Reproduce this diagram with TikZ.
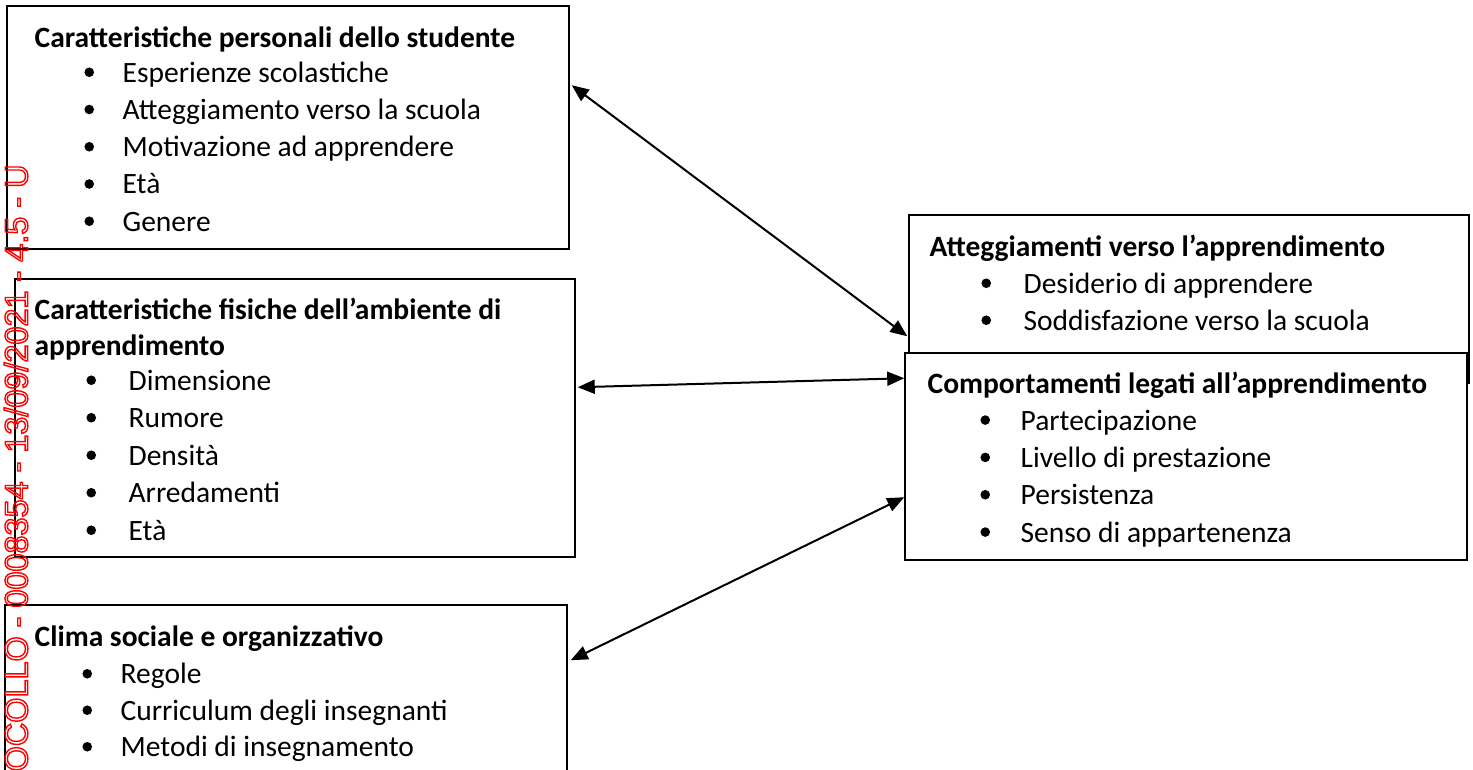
\documentclass[tikz,border=0pt]{standalone}
\usepackage{fontspec}
\setmainfont{Carlito}
\newfontfamily\stampfont{Liberation Sans}
\usetikzlibrary{arrows.meta, calc, fit}

\begin{document}
\begin{tikzpicture}[x=0.5pt, y=-0.5pt,
    box/.style={draw, line width=0.75pt, inner sep=0pt, fill=white},
    txt/.style={anchor=base west, inner sep=0pt, font=\fontsize{14.75}{16}\selectfont},
    head/.style={txt, font=\fontsize{14.75}{16}\selectfont\bfseries},
    link/.style={{Triangle[length=8.5pt,width=7pt]}-{Triangle[length=8.5pt,width=7pt]}, line width=1pt}]
    \useasboundingbox (0,0) rectangle (1473,770);
    \clip (0,0) rectangle (1473,770);
    \node [box, fit={(7,6) (569,249)}] (pers) {};
    \node [box, fit={(15,279) (575,557)}] (amb) {};
    \node [box, fit={(5,605) (567,800)}] (clima) {};
    \node [box, fit={(909,215) (1469,383)}] (att) {};
    \node [box, fit={(905,353) (1467,560)}] (comp) {};

    \node [head] (pers-t) at ($(pers.north west)+(28,42)$) {Caratteristiche personali dello studente};
    \foreach \t [count=\i] in {Esperienze scolastiche, Atteggiamento verso la scuola, Motivazione ad apprendere, Età, Genere} {
    \fill ($(pers.north west)+(83,29.75+37.25*\i)$) circle (4.8);
    \node [txt] (pers-\i) at ($(pers.north west)+(116,39.75+37.25*\i)$) {\t};
    }

    \node [head] (amb-t) at ($(amb.north west)+(20,41)$) {Caratteristiche fisiche dell’ambiente di};
    \node [head] (amb-u) at ($(amb.north west)+(20,77)$) {apprendimento};
    \foreach \t [count=\i] in {Dimensione, Rumore, Densità, Arredamenti, Età} {
    \fill ($(amb.north west)+(77,64.5+37.5*\i)$) circle (4.8);
    \node [txt] (amb-\i) at ($(amb.north west)+(114,74.5+37.5*\i)$) {\t};
    }

    \node [head] (clima-t) at ($(clima.north west)+(30,42)$) {Clima sociale e organizzativo};
    \foreach \t [count=\i] in {Regole, Curriculum degli insegnanti, Metodi di insegnamento} {
    \fill ($(clima.north west)+(83,33+36.5*\i)$) circle (4.8);
    \node [txt] (clima-\i) at ($(clima.north west)+(116,43+36.5*\i)$) {\t};
    }

    \node [head] (att-t) at ($(att.north west)+(21,42)$) {Atteggiamenti verso l’apprendimento};
    \foreach \t [count=\i] in {Desiderio di apprendere, Soddisfazione verso la scuola} {
    \fill ($(att.north west)+(78,32+37*\i)$) circle (4.8);
    \node [txt] (att-\i) at ($(att.north west)+(115,42+37*\i)$) {\t};
    }

    \node [head] (comp-t) at ($(comp.north west)+(23,41)$) {Comportamenti legati all’apprendimento};
    \foreach \t [count=\i] in {Partecipazione, Livello di prestazione, Persistenza, Senso di appartenenza} {
    \fill ($(comp.north west)+(81,30.5+37.33*\i)$) circle (4.8);
    \node [txt] (comp-\i) at ($(comp.north west)+(116,40.5+37.33*\i)$) {\t};
    }

    \draw [link] ($(pers.north east)+(2,80)$) -- ($(att.north west)+(-1,122)$);
    \draw [link] ($(amb.north east)+(2,109)$) -- ($(comp.north west)+(0,26)$);
    \draw [link] ($(clima.north east)+(3,56)$) -- ($(comp.north west)+(0,145)$);

    \node [rotate=90, anchor=east, inner sep=0pt, text=red, font=\stampfont\fontsize{16.2}{17}\selectfont] (stamp) at (16,164) {\special{pdf:literal direct 1 Tr 0.7 w}OCOLLO - 0008354 - 13/09/2021 - 4.5 - U\special{pdf:literal direct 0 Tr}};
\end{tikzpicture}
\end{document}
